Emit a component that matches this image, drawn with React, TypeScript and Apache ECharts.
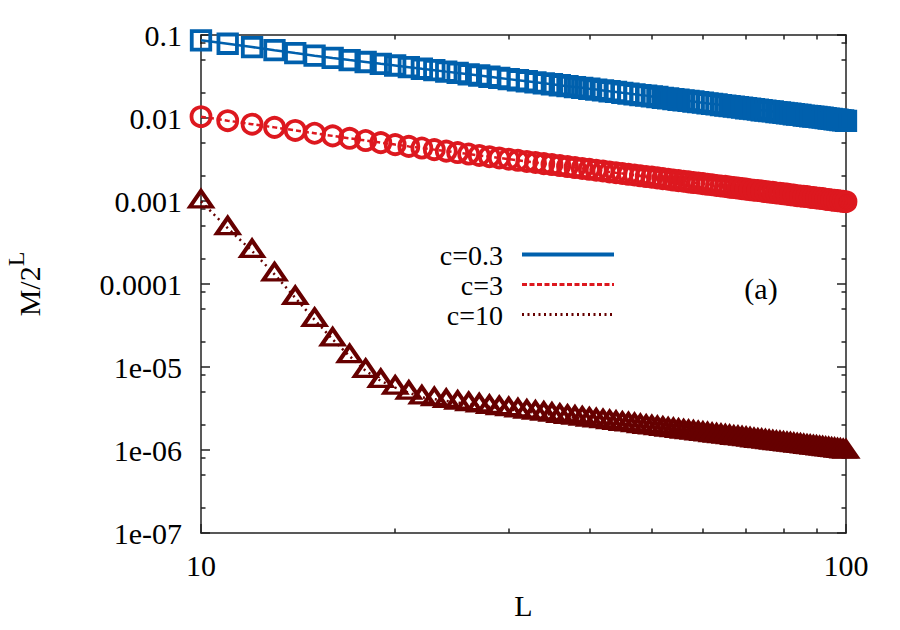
import React, { useEffect, useRef } from "react";
import * as echarts from "echarts";

const L_VALUES = [
  10, 11, 12, 13, 14, 15, 16, 17, 18, 19, 20, 21, 22, 23, 24, 25, 26, 27, 28, 29,
  30, 31, 32, 33, 34, 35, 36, 37, 38, 39, 40, 41, 42, 43, 44, 45, 46, 47, 48, 49,
  50, 51, 52, 53, 54, 55, 56, 57, 58, 59, 60, 61, 62, 63, 64, 65, 66, 67, 68, 69,
  70, 71, 72, 73, 74, 75, 76, 77, 78, 79, 80, 81, 82, 83, 84, 85, 86, 87, 88, 89,
  90, 91, 92, 93, 94, 95, 96, 97, 98, 99, 100,
];

// c = 0.3
const C03 = [
  0.0863, 0.0784, 0.0715, 0.0656, 0.0606, 0.0564, 0.0529, 0.0499, 0.0473, 0.0449,
  0.0429, 0.041, 0.0392, 0.0377, 0.0362, 0.0349, 0.0336, 0.0325, 0.0314, 0.0304,
  0.0294, 0.0285, 0.0277, 0.0269, 0.0262, 0.0255, 0.0248, 0.0242, 0.0236, 0.0231,
  0.0225, 0.022, 0.0215, 0.021, 0.0206, 0.0201, 0.0197, 0.0193, 0.0189, 0.0186,
  0.0182, 0.0179, 0.0175, 0.0172, 0.0169, 0.0166, 0.0163, 0.0161, 0.0158, 0.0155,
  0.0153, 0.015, 0.0148, 0.0146, 0.0143, 0.0141, 0.0139, 0.0137, 0.0135, 0.0133,
  0.0131, 0.013, 0.0128, 0.0126, 0.0124, 0.0123, 0.0121, 0.012, 0.0118, 0.0117,
  0.0115, 0.0114, 0.0113, 0.0111, 0.011, 0.0109, 0.0107, 0.0106, 0.0105, 0.0104,
  0.0103, 0.0102, 0.0101, 0.00995, 0.00984, 0.00974, 0.00964, 0.00954, 0.00944, 0.00934,
  0.00925,
];

// c = 3
const C3 = [
  0.01037, 0.00929, 0.00843, 0.00771, 0.00709, 0.00655, 0.00609, 0.00569, 0.00535, 0.00505,
  0.00478, 0.00455, 0.00435, 0.00416, 0.00399, 0.00383, 0.00368, 0.00354, 0.00342, 0.0033,
  0.00319, 0.00309, 0.003, 0.00291, 0.00282, 0.00275, 0.00267, 0.0026, 0.00253, 0.00247,
  0.00241, 0.00235, 0.0023, 0.00224, 0.00219, 0.00215, 0.0021, 0.00206, 0.00201, 0.00197,
  0.00194, 0.0019, 0.00186, 0.00183, 0.00179, 0.00176, 0.00173, 0.0017, 0.00167, 0.00165,
  0.00162, 0.00159, 0.00157, 0.00154, 0.00152, 0.0015, 0.00147, 0.00145, 0.00143, 0.00141,
  0.00139, 0.00137, 0.00135, 0.00134, 0.00132, 0.0013, 0.00128, 0.00127, 0.00125, 0.00124,
  0.00122, 0.00121, 0.00119, 0.00118, 0.00116, 0.00115, 0.00114, 0.00113, 0.00111, 0.0011,
  0.00109, 0.00108, 0.00107, 0.00105, 0.00104, 0.00103, 0.00102, 0.00101, 0.001, 0.00099,
  0.00098,
];

// c = 10
const C10 = [
  9.9e-4, 4.7e-4, 2.5e-4, 1.31e-4, 6.8e-5, 3.7e-5, 2.15e-5, 1.35e-5, 9.0e-6, 6.8e-6,
  5.65e-6, 4.9e-6, 4.3e-6, 4.1e-6, 3.9e-6, 3.72e-6, 3.58e-6, 3.44e-6, 3.31e-6, 3.2e-6,
  3.1e-6, 3.0e-6, 2.9e-6, 2.82e-6, 2.74e-6, 2.66e-6, 2.58e-6, 2.51e-6, 2.45e-6, 2.39e-6,
  2.33e-6, 2.27e-6, 2.22e-6, 2.17e-6, 2.12e-6, 2.07e-6, 2.03e-6, 1.99e-6, 1.94e-6, 1.9e-6,
  1.87e-6, 1.83e-6, 1.8e-6, 1.76e-6, 1.73e-6, 1.7e-6, 1.67e-6, 1.64e-6, 1.62e-6, 1.59e-6,
  1.56e-6, 1.54e-6, 1.51e-6, 1.49e-6, 1.47e-6, 1.45e-6, 1.43e-6, 1.4e-6, 1.39e-6, 1.37e-6,
  1.35e-6, 1.33e-6, 1.31e-6, 1.29e-6, 1.28e-6, 1.26e-6, 1.245e-6, 1.23e-6, 1.21e-6, 1.2e-6,
  1.185e-6, 1.17e-6, 1.157e-6, 1.143e-6, 1.131e-6, 1.118e-6, 1.106e-6, 1.093e-6, 1.082e-6, 1.07e-6,
  1.058e-6, 1.047e-6, 1.036e-6, 1.025e-6, 1.015e-6, 1.004e-6, 0.994e-6, 0.985e-6, 0.974e-6, 0.965e-6,
  0.955e-6,
];

const SERIES_NAMES = ["c=0.3", "c=3", "c=10"];
const X_MINOR = [20, 30, 40, 50, 60, 70, 80, 90];
const Y_MINOR_MANTISSAS = [2, 5, 8];
const Y_DECADES = [-7, -6, -5, -4, -3, -2];

const FONT = "Liberation Serif";
const FS = 30;
const LEG_FS = 28;
const BLUE = "#0060ad";
const RED = "#dd181f";
const MAROON = "#660000";
const AXIS = "#222";

export default function App() {
  const ref = useRef<HTMLDivElement>(null);

  useEffect(() => {
    if (!ref.current) return;
    const chart = echarts.init(ref.current, null, { renderer: "svg" });

    const grid = {
      left: 201,
      right: 54,
      top: 35,
      bottom: 97,
      containLabel: false,
      outerBoundsMode: "none",
    };
    const lineSt = { color: AXIS, width: 1.5 };

    const yMinorLog: number[] = [];
    Y_DECADES.forEach((d) =>
      Y_MINOR_MANTISSAS.forEach((m) => yMinorLog.push(d + Math.log10(m)))
    );
    const xMinorLog = X_MINOR.map((v) => Math.log10(v));

    const yFmt = (v: number) => {
      const e = Math.round(Math.log10(v));
      if (e >= -4) return Math.pow(10, e).toFixed(-e);
      return "1e-0" + -e;
    };

    const pts = (arr: number[]) => L_VALUES.map((x, i) => [x, arr[i]]);
    const txt = { fontFamily: FONT, fontSize: FS, color: "#000" };

    const option: any = {
      animation: false,
      backgroundColor: "#fff",
      textStyle: { fontFamily: FONT },
      grid,
      xAxis: [
        {
          type: "log",
          logBase: 10,
          min: 10,
          max: 100,
          position: "bottom",
          axisLine: { show: true, onZero: false, lineStyle: lineSt },
          axisTick: { show: true, inside: true, length: 9, lineStyle: lineSt },
          axisLabel: {
            show: true,
            ...txt,
            margin: 17,
            formatter: (v: number) => String(Math.round(v)),
          },
          splitLine: { show: false },
          name: "L",
          nameLocation: "middle",
          nameGap: 57,
          nameTextStyle: txt,
        },
        {
          type: "log",
          logBase: 10,
          min: 10,
          max: 100,
          position: "top",
          axisLine: { show: true, onZero: false, lineStyle: lineSt },
          axisTick: { show: true, inside: true, length: 9, lineStyle: lineSt },
          axisLabel: { show: false },
          splitLine: { show: false },
        },
        {
          type: "value",
          min: 1,
          max: 2,
          position: "bottom",
          axisLine: { show: false },
          axisTick: { show: true, inside: true, length: 4.5, lineStyle: lineSt, customValues: xMinorLog },
          axisLabel: { show: false },
          splitLine: { show: false },
        },
        {
          type: "value",
          min: 1,
          max: 2,
          position: "top",
          axisLine: { show: false },
          axisTick: { show: true, inside: true, length: 4.5, lineStyle: lineSt, customValues: xMinorLog },
          axisLabel: { show: false },
          splitLine: { show: false },
        },
      ],
      yAxis: [
        {
          type: "log",
          logBase: 10,
          min: 1e-7,
          max: 0.1,
          position: "left",
          axisLine: { show: true, onZero: false, lineStyle: lineSt },
          axisTick: { show: true, inside: true, length: 9, lineStyle: lineSt },
          axisLabel: {
            show: true,
            ...txt,
            margin: 19,
            formatter: yFmt,
          },
          splitLine: { show: false },
          name: "{a|M/2}{b|L}",
          nameLocation: "middle",
          nameGap: 157,
          nameTextStyle: {
            ...txt,
            rich: {
              a: { fontFamily: FONT, fontSize: FS, color: "#000", verticalAlign: "bottom" },
              b: {
                fontFamily: FONT,
                fontSize: 24,
                color: "#000",
                verticalAlign: "bottom",
                padding: [0, 0, 16, 0],
              },
            },
          },
        },
        {
          type: "log",
          logBase: 10,
          min: 1e-7,
          max: 0.1,
          position: "right",
          axisLine: { show: true, onZero: false, lineStyle: lineSt },
          axisTick: { show: true, inside: true, length: 9, lineStyle: lineSt },
          axisLabel: { show: false },
          splitLine: { show: false },
        },
        {
          type: "value",
          min: -7,
          max: -1,
          position: "left",
          axisLine: { show: false },
          axisTick: { show: true, inside: true, length: 4.5, lineStyle: lineSt, customValues: yMinorLog },
          axisLabel: { show: false },
          splitLine: { show: false },
        },
        {
          type: "value",
          min: -7,
          max: -1,
          position: "right",
          axisLine: { show: false },
          axisTick: { show: true, inside: true, length: 4.5, lineStyle: lineSt, customValues: yMinorLog },
          axisLabel: { show: false },
          splitLine: { show: false },
        },
      ],
      series: [
        {
          name: SERIES_NAMES[0],
          type: "line",
          xAxisIndex: 0,
          yAxisIndex: 0,
          data: pts(C03),
          clip: false,
          symbol: "rect",
          symbolSize: 18.5,
          lineStyle: { color: BLUE, width: 2.5, type: "solid" },
          itemStyle: { color: "rgba(0,0,0,0)", borderColor: BLUE, borderWidth: 3.8 },
          emphasis: { disabled: true },
        },
        {
          name: SERIES_NAMES[1],
          type: "line",
          xAxisIndex: 0,
          yAxisIndex: 0,
          data: pts(C3),
          clip: false,
          symbol: "circle",
          symbolSize: 19,
          lineStyle: { color: RED, width: 2.5, type: [5, 3] },
          itemStyle: { color: "rgba(0,0,0,0)", borderColor: RED, borderWidth: 3.8 },
          emphasis: { disabled: true },
        },
        {
          name: SERIES_NAMES[2],
          type: "line",
          xAxisIndex: 0,
          yAxisIndex: 0,
          data: pts(C10),
          clip: false,
          symbol: "triangle",
          symbolSize: [22, 16],
          symbolOffset: [0, -2.5],
          lineStyle: { color: MAROON, width: 2.5, type: [2, 4] },
          itemStyle: { color: "rgba(0,0,0,0)", borderColor: MAROON, borderWidth: 3.8 },
          emphasis: { disabled: true },
        },
      ],
      graphic: [
        {
          type: "text",
          x: 503,
          y: 255,
          style: { text: SERIES_NAMES[0], align: "right", verticalAlign: "middle", fontFamily: FONT, fontSize: LEG_FS, fill: "#000" },
        },
        {
          type: "text",
          x: 503,
          y: 285,
          style: { text: SERIES_NAMES[1], align: "right", verticalAlign: "middle", fontFamily: FONT, fontSize: LEG_FS, fill: "#000" },
        },
        {
          type: "text",
          x: 503,
          y: 315,
          style: { text: SERIES_NAMES[2], align: "right", verticalAlign: "middle", fontFamily: FONT, fontSize: LEG_FS, fill: "#000" },
        },
        {
          type: "line",
          shape: { x1: 522, y1: 254.5, x2: 614, y2: 254.5 },
          style: { stroke: BLUE, lineWidth: 4 },
        },
        {
          type: "line",
          shape: { x1: 522, y1: 284.5, x2: 614, y2: 284.5 },
          style: { stroke: RED, lineWidth: 3, lineDash: [5, 2.5] },
        },
        {
          type: "line",
          shape: { x1: 522, y1: 314.5, x2: 614, y2: 314.5 },
          style: { stroke: MAROON, lineWidth: 3, lineDash: [2, 3.5] },
        },
        {
          type: "text",
          x: 761,
          y: 288,
          style: { text: "(a)", align: "center", verticalAlign: "middle", fontFamily: FONT, fontSize: FS, fill: "#000" },
        },
      ],
    };

    chart.setOption(option);
    return () => chart.dispose();
  }, []);

  return (
    <div
      ref={ref}
      style={{ position: "absolute", left: 0, top: 0, width: 900, height: 630, background: "#fff" }}
    />
  );
}
